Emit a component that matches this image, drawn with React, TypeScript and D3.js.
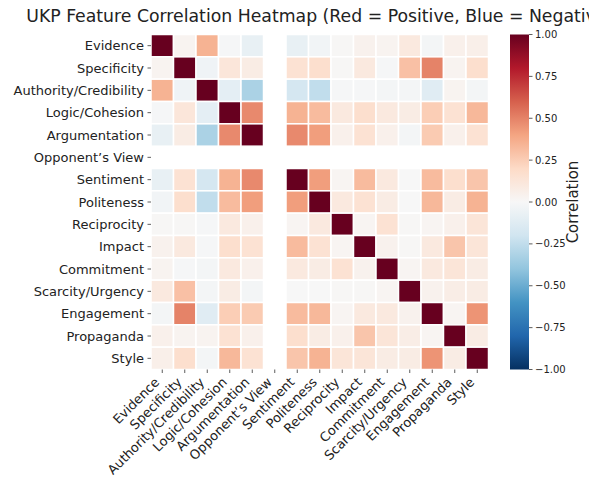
import React from 'react';
import * as d3 from 'd3';

const labels = [
  'Evidence', 'Specificity', 'Authority/Credibility', 'Logic/Cohesion', 'Argumentation',
  'Opponent\u2019s View', 'Sentiment', 'Politeness', 'Reciprocity', 'Impact',
  'Commitment', 'Scarcity/Urgency', 'Engagement', 'Propaganda', 'Style',
];

// correlation matrix (null = NaN, Opponent's View has no variance)
const N = null;
const corr: (number | null)[][] = [
  [1, 0.03, 0.35, -0.01, -0.08, N, -0.08, -0.03, 0.01, 0.04, 0.03, 0.1, -0.02, 0.05, 0.06],
  [0.03, 1, -0.04, 0.12, 0.08, N, 0.15, 0.17, 0.01, 0.1, -0.01, 0.3, 0.5, 0.03, 0.17],
  [0.35, -0.04, 1, -0.1, -0.32, N, -0.18, -0.25, -0.01, -0.01, -0.02, -0.02, -0.12, 0.03, -0.02],
  [-0.01, 0.12, -0.1, 1, 0.48, N, 0.35, 0.32, 0.1, 0.17, 0.1, 0.08, 0.25, 0.15, 0.33],
  [-0.08, 0.08, -0.32, 0.48, 1, N, 0.48, 0.42, 0.05, 0.15, 0.05, -0.02, 0.26, 0.05, 0.15],
  [N, N, N, N, N, N, N, N, N, N, N, N, N, N, N],
  [-0.08, 0.15, -0.18, 0.35, 0.48, N, 1, 0.42, 0.02, 0.32, 0.1, 0.0, 0.32, 0.17, 0.28],
  [-0.03, 0.17, -0.25, 0.32, 0.42, N, 0.42, 1, 0.1, 0.15, 0.08, 0.0, 0.33, 0.08, 0.35],
  [0.01, 0.01, -0.01, 0.1, 0.05, N, 0.02, 0.1, 1, 0.02, 0.15, 0.01, 0.02, 0.05, 0.13],
  [0.04, 0.1, -0.01, 0.17, 0.15, N, 0.32, 0.15, 0.02, 1, 0.04, 0.01, 0.1, 0.28, 0.13],
  [0.03, -0.01, -0.02, 0.1, 0.05, N, 0.1, 0.08, 0.15, 0.04, 1, 0.02, 0.1, 0.13, 0.08],
  [0.1, 0.3, -0.02, 0.08, -0.02, N, 0.0, 0.0, 0.01, 0.01, 0.02, 1, 0.04, 0.07, 0.08],
  [-0.02, 0.5, -0.12, 0.25, 0.26, N, 0.32, 0.33, 0.02, 0.1, 0.1, 0.04, 1, 0.02, 0.45],
  [0.05, 0.03, 0.03, 0.15, 0.05, N, 0.17, 0.08, 0.05, 0.28, 0.13, 0.07, 0.02, 1, 0.08],
  [0.06, 0.17, -0.02, 0.33, 0.15, N, 0.28, 0.35, 0.13, 0.13, 0.08, 0.08, 0.45, 0.08, 1],
];

const cbarTicks = [1, 0.75, 0.5, 0.25, 0, -0.25, -0.5, -0.75, -1];

// matplotlib RdBu_r stops
const rdbu = ['#053061', '#2166ac', '#4393c3', '#92c5de', '#d1e5f0', '#f7f7f7',
  '#fddbc7', '#f4a582', '#d6604d', '#b2182b', '#67001f'];

const W = 589, H = 478;
const left = 151, right = 488.5, top = 34.5, bottom = 369.5;
const cbX = 510, cbW = 19;
const font = 'DejaVu Sans, sans-serif';

export default function App() {
  const x = d3.scaleBand<string>().domain(labels).range([left, right]);
  const y = d3.scaleBand<string>().domain(labels).range([top, bottom]);
  const color = d3.scaleLinear<string>()
    .domain(d3.range(11).map(i => -1 + i * 0.2))
    .range(rdbu)
    .interpolate(d3.interpolateRgb);
  const cy = d3.scaleLinear().domain([-1, 1]).range([bottom, top]);
  const fmt = d3.format('.2f');

  return (
    <svg width={W} height={H} style={{ position: 'absolute', left: 0, top: 0, background: '#fff' }}
      fontFamily={font}>
      <defs>
        <linearGradient id="cbar" x1="0" y1="1" x2="0" y2="0">
          {rdbu.map((c, i) => (
            <stop key={i} offset={`${i * 10}%`} stopColor={c} />
          ))}
        </linearGradient>
      </defs>

      <text x={(left + right) / 2} y={22} textAnchor="middle" fontSize={17.3} fill="#222">
        UKP Feature Correlation Heatmap (Red = Positive, Blue = Negative)
      </text>

      <g>
        {corr.map((row, i) => row.map((v, j) => v === null ? null : (
          <rect key={`${i}-${j}`}
            x={x(labels[j])!} y={y(labels[i])!}
            width={x.bandwidth()} height={y.bandwidth()}
            fill={color(v)} stroke="#fff" strokeWidth={1.5} />
        )))}
      </g>

      {/* y axis */}
      <g>
        {labels.map(l => {
          const yy = y(l)! + y.bandwidth() / 2;
          return (
            <g key={l}>
              <line x1={left - 3.5} x2={left} y1={yy} y2={yy} stroke="#333" strokeWidth={0.8} />
              <text x={left - 7} y={yy} dy="0.35em" textAnchor="end" fontSize={13} fill="#222">{l}</text>
            </g>
          );
        })}
      </g>

      {/* x axis */}
      <g>
        {labels.map(l => {
          const xx = x(l)! + x.bandwidth() / 2;
          return (
            <g key={l}>
              <line x1={xx} x2={xx} y1={bottom} y2={bottom + 3.5} stroke="#333" strokeWidth={0.8} />
              <text transform={`translate(${xx - 2},${bottom + 13.5}) rotate(-45)`}
                textAnchor="end" fontSize={13} fill="#222">{l}</text>
            </g>
          );
        })}
      </g>

      {/* colorbar */}
      <rect x={cbX} y={top} width={cbW} height={bottom - top} fill="url(#cbar)" />
      {cbarTicks.map(t => (
        <g key={t}>
          <line x1={cbX + cbW} x2={cbX + cbW + 3.5} y1={cy(t)} y2={cy(t)} stroke="#333" strokeWidth={0.8} />
          <text x={cbX + cbW + 6} y={cy(t)} dy="0.35em" fontSize={10} fill="#222">{fmt(t)}</text>
        </g>
      ))}
      <text transform={`translate(578,${(top + bottom) / 2}) rotate(-90)`} textAnchor="middle"
        fontSize={15} fill="#222">Correlation</text>
    </svg>
  );
}
